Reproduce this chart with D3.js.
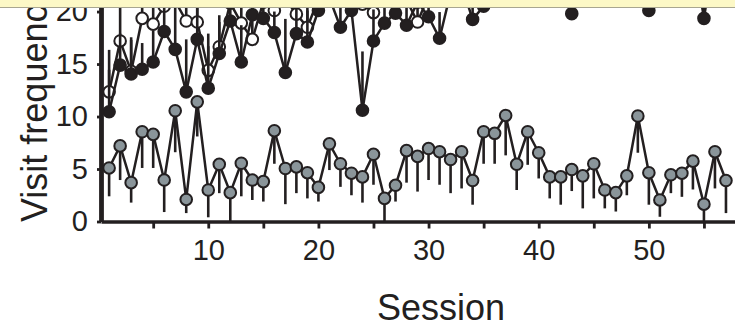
<!DOCTYPE html>
<html>
<head>
<meta charset="utf-8">
<script src="https://cdn.jsdelivr.net/npm/d3@7"></script>
<style>
body { margin: 0; background: #fff; }
svg { display: block; font-family: "Liberation Sans", Arial, sans-serif; }
</style>
</head>
<body>
<div id="chart"></div>
<script>
// session numbers (x categories)
var sessions = [1,2,3,4,5,6,7,8,9,10,11,12,13,14,15,16,17,18,19,20,
	21,22,23,24,25,26,27,28,29,30,31,32,33,34,35,36,37,38,39,40,
	41,42,43,44,45,46,47,48,49,50,51,52,53,54,55,56,57];

// grey series, error drawn downward
var greyMean = [5.1,7.2,3.7,8.55,8.3,3.95,10.55,2.1,11.4,3.0,
	5.45,2.75,5.55,3.95,3.8,8.65,5.05,5.2,4.65,3.25,
	7.4,5.5,4.6,4.25,6.4,2.2,3.45,6.75,6.2,6.95,
	6.65,5.9,6.65,3.9,8.55,8.4,10.1,5.45,8.55,6.55,
	4.25,4.25,4.95,4.35,5.5,3.0,2.75,4.35,10.05,4.65,
	2.05,4.45,4.6,5.75,1.65,6.65,3.9];
var greyErr = [2.7,3.25,1.9,3.45,3.2,3.05,3.95,1.3,3.3,2.6,
	2.75,2.75,3.15,1.9,1.9,3.15,3.4,2.5,2.45,1.35,
	2.5,2.2,2.1,2.45,2.9,2.2,1.55,3.05,3.35,3.0,
	3.15,3.2,3.5,2.3,3.05,2.9,3.8,2.45,3.15,2.45,
	2.05,2.65,2.05,3.1,3.3,1.75,1.8,1.85,3.5,3.05,
	1.6,1.75,2.25,2.7,1.65,3.5,3.1];

// black series, error drawn upward (most of it runs off the top)
var blackMean = [10.45,14.9,14.05,14.5,15.2,18.1,16.4,12.35,17.35,12.7,
	16.0,19.1,15.2,19.7,19.35,18.0,14.2,17.9,17.1,20.1,
	21.3,18.5,20.1,10.6,17.2,18.9,19.85,18.7,20.9,19.5,
	17.45,21.8,22.5,19.25,20.5,24.5,26,26,26,26,
	26,26,19.8,26,26,26,26,26,26,20.1,
	26,26,26,26,19.35,26,26];
var blackErr = [4,3,3.5,2.5,3,3,4,5,3,4,
	3,2.5,3.5,2,2,2,5.1,2.5,3,2,
	2,2.5,2,5.6,3,2,2,2,2,2,
	2.5,2,2,2,2,2,2,2,2,2,
	2,2,2,2,2,2,2,2,2,2,
	2,2,2,2,2,2,2];

// white series, error drawn upward
var whiteMean = [12.35,17.2,14.3,19.35,18.8,20.5,21.0,19.1,19.0,14.4,
	16.65,20.8,18.9,17.35,20.9,20.1,21.2,19.75,18.5,21.2,
	21.3,21.0,21.4,20.7,19.9,21.2,21.3,21.1,19.0,21.5,
	22.5,23,23,23,23,24,24,24,24,24,
	24,24,24,24,24,24,24,24,24,24,
	24,24,24,24,24,24,24];
var whiteErr = [4,4,3,2,2.5,2,2,2.5,2.5,3.5,
	3,2,2.5,3,2,2,2,2,2.5,2,
	2,2,2,2,2,2,2,2,2.5,2,
	2,2,2,2,2,2,2,2,2,2,
	2,2,2,2,2,2,2,2,2,2,
	2,2,2,2,2,2,2];

var xTicks = [5,10,15,20,25,30,35,40,45,50,55];
var xTickLabels = [10,20,30,40,50];
var yTicks = [0,5,10,15,20];

var w = 735, h = 326;
var ink = '#231f20';

var x = d3.scaleLinear().domain([0.263, 57.82]).range([101, 735]);
var y = d3.scaleLinear().domain([0, 21.1]).range([221.5, 0]);

var svg = d3.select('#chart').append('svg')
	.attr('width', w)
	.attr('height', h);

var plot = svg.append('g');

function drawSeries(mean, err, dir, fill) {
	var g = plot.append('g');
	var pts = sessions.map(function (s, i) {
		return {s: s, m: mean[i], e: err[i]};
	});

	g.selectAll('.err')
		.data(pts)
		.enter().append('line')
		.attr('x1', function (d) { return x(d.s); })
		.attr('x2', function (d) { return x(d.s); })
		.attr('y1', function (d) { return y(d.m); })
		.attr('y2', function (d) { return y(Math.max(0, d.m + dir * d.e)); })
		.style('stroke', ink)
		.style('stroke-width', 2.6);

	var line = d3.line()
		.x(function (d) { return x(d.s); })
		.y(function (d) { return y(d.m); });

	g.append('path')
		.datum(pts)
		.attr('d', line)
		.style('fill', 'none')
		.style('stroke', ink)
		.style('stroke-width', 2.5)
		.style('stroke-linejoin', 'round');

	g.selectAll('circle')
		.data(pts)
		.enter().append('circle')
		.attr('cx', function (d) { return x(d.s); })
		.attr('cy', function (d) { return y(d.m); })
		.attr('r', 5.8)
		.style('fill', fill)
		.style('stroke', ink)
		.style('stroke-width', 2);
}

drawSeries(greyMean, greyErr, -1, '#8a959a');
drawSeries(whiteMean, whiteErr, 1, '#ffffff');
drawSeries(blackMean, blackErr, 1, ink);

// axes
var xAxis = d3.axisBottom(x)
	.tickValues(xTicks)
	.tickSizeInner(7)
	.tickSizeOuter(0)
	.tickPadding(11)
	.tickFormat(function (d) { return xTickLabels.indexOf(d) >= 0 ? d : ''; });

var gx = svg.append('g')
	.attr('transform', 'translate(0,' + y(0) + ')')
	.call(xAxis);
gx.select('.domain').style('stroke', ink).style('stroke-width', 3.4);
gx.selectAll('.tick line').style('stroke', ink).style('stroke-width', 2.8);
gx.selectAll('.tick text')
	.style('font-size', '29px')
	.style('fill', ink);

var yAxis = d3.axisLeft(y)
	.tickValues(yTicks)
	.tickSizeInner(4)
	.tickSizeOuter(0)
	.tickPadding(9);

var gy = svg.append('g')
	.attr('transform', 'translate(101,0)')
	.call(yAxis);
gy.select('.domain').style('stroke', ink).style('stroke-width', 4.8);
gy.selectAll('.tick line').style('stroke', ink).style('stroke-width', 2.8);
gy.selectAll('.tick text')
	.style('font-size', '29px')
	.style('fill', ink);

svg.append('text')
	.attr('x', 441)
	.attr('y', 320)
	.attr('text-anchor', 'middle')
	.style('font-size', '36px')
	.style('fill', ink)
	.text('Session');

svg.append('text')
	.attr('transform', 'translate(47,222) rotate(-90)')
	.attr('text-anchor', 'start')
	.style('font-size', '36px')
	.style('fill', ink)
	.text('Visit frequency');

// pale yellow strip across the top
svg.append('rect')
	.attr('x', 0).attr('y', 0)
	.attr('width', w).attr('height', 7)
	.style('fill', '#fcf8c6');
svg.append('line')
	.attr('x1', 0).attr('x2', w)
	.attr('y1', 7.5).attr('y2', 7.5)
	.style('stroke', '#a8a690')
	.style('stroke-width', 1);
</script>
</body>
</html>
